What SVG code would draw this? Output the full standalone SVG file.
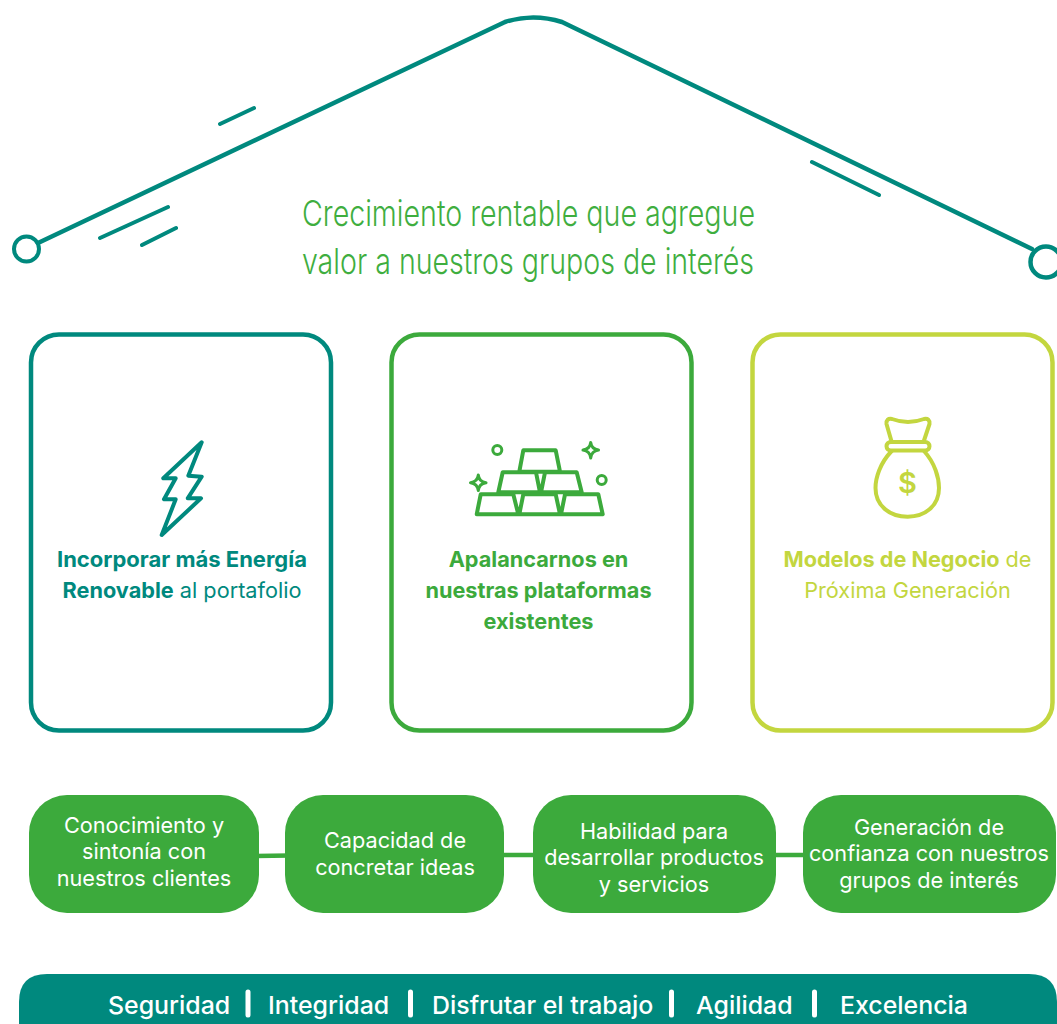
<svg xmlns="http://www.w3.org/2000/svg" width="1057" height="1024" viewBox="0 0 1057 1024">
<style>
text{font-family:"Inter","Liberation Sans",sans-serif}
.teal{fill:none;stroke:#00897e;stroke-width:4;stroke-linecap:round;stroke-linejoin:round}
.green{fill:none;stroke:#3caa3c;stroke-width:4;stroke-linecap:round;stroke-linejoin:round}
.lime{fill:none;stroke:#c3d63f;stroke-width:4;stroke-linecap:round;stroke-linejoin:round}
.card{stroke-width:4.500}
.title{font-size:36px;font-weight:300;fill:#3fae3f}
.ct{font-size:21.700px;text-anchor:middle}
.b{font-weight:700}
.l{font-weight:400}
.pill{fill:#3caa3c}
.pt{font-size:21.700px;fill:#fff;text-anchor:middle;font-weight:400}
.bt{font-size:24.900px;fill:#fff;font-weight:500}
.sep{stroke:#fff;stroke-width:5;stroke-linecap:round}
</style>
<g id="roof">
<path class="teal" style="stroke-width:4.500" d="M38 243L505 22Q533 13 562 22L1032 249"/>
<circle class="teal" cx="26.500" cy="249" r="12.500"/>
<circle class="teal" cx="1046" cy="262" r="15.500" style="stroke-width:4.500"/>
<path class="teal" d="M220 124L254 108M100 238L168 207M142 245L176 228M812 162L879 195"/>
</g>
<g id="title">
<text class="title" x="302" y="226" textLength="453" lengthAdjust="spacingAndGlyphs">Crecimiento rentable que agregue</text>
<text class="title" x="302" y="274" textLength="452" lengthAdjust="spacingAndGlyphs">valor a nuestros grupos de interés</text>
</g>
<g id="connectors">
<path stroke="#3caa3c" stroke-width="4.500" fill="none" d="M255 856L290 855.500M500 855H538M772 855H808"/>
</g>
<g id="card-renovable">
<rect class="teal card" x="31" y="334.500" width="300" height="396" rx="28"/>
<path class="teal" d="M201.700 442.300L163.300 478.300H175.700L164 499.300H175.700L161.700 535L201 498.300H187.700L201.700 476.700L188.300 475.700Z"/>
<text class="ct b" x="182" y="567" fill="#00897e" textLength="250" lengthAdjust="spacingAndGlyphs">Incorporar más Energía</text>
<text class="ct" x="182" y="598" fill="#00897e"><tspan class="b">Renovable</tspan><tspan class="l"> al portafolio</tspan></text>
</g>
<g id="card-plataformas">
<rect class="green card" x="391.500" y="334.500" width="300" height="396" rx="28"/>
<path class="green" d="M523.300 450.300H555.700L560 471.700H519.300ZM502.700 472.300H536L540 492.300H498.300ZM545 472.300H576.700L581.700 492.300H541ZM480.700 494.300H513.300L518.300 514.300H476.700ZM523.300 494.300H555.700L560 514.300H519.300ZM565 494.300H598.300L602.700 514.300H561Z"/>
<circle class="green" cx="497.300" cy="450" r="4.500" style="stroke-width:3"/>
<circle class="green" cx="601.700" cy="480" r="4.500" style="stroke-width:3"/>
<path class="green" style="stroke-width:3" d="M590.700 442.500Q591.500 449 598.500 450Q591.500 451 590.700 458Q590 451 583 450Q590 449 590.700 442.500ZM478.300 475Q479 481.800 486 482.700Q479 483.600 478.300 490.500Q477.500 483.600 470.500 482.700Q477.500 481.800 478.300 475Z"/>
<text class="ct b" x="538.500" y="567" fill="#3caa3c">Apalancarnos en</text>
<text class="ct b" x="538.500" y="598" fill="#3caa3c">nuestras plataformas</text>
<text class="ct b" x="538.500" y="629" fill="#3caa3c">existentes</text>
</g>
<g id="card-modelos">
<rect class="lime card" x="752.500" y="334.500" width="300" height="396" rx="28"/>
<path class="lime" d="M891.700 442L886.500 424Q886 418 892 419Q908 425 924 419Q930 418 929.500 424L923.500 442"/>
<rect class="lime" x="886.500" y="442" width="43" height="8.500" rx="4.200"/>
<path class="lime" d="M891.700 451C880 463 875.500 478 875.500 488C875.500 506 890 516.700 907.700 516.700C925 516.700 939 506 939 488C939 478 935 463 924 451"/>
<text x="907.500" y="493" font-size="29" font-weight="600" text-anchor="middle" fill="#c3d63f">$</text>
<text class="ct" x="907.500" y="567" fill="#c3d63f" textLength="248"><tspan class="b">Modelos de Negocio</tspan><tspan class="l"> de</tspan></text>
<text class="ct l" x="907.500" y="598" fill="#c3d63f">Próxima Generación</text>
</g>
<g id="pill-conocimiento">
<rect class="pill" x="29" y="795" width="230" height="118" rx="38"/>
<text class="pt" x="144" y="833">Conocimiento y</text><text class="pt" x="144" y="859">sintonía con</text><text class="pt" x="144" y="886">nuestros clientes</text>
</g>
<g id="pill-capacidad">
<rect class="pill" x="285" y="795" width="219" height="118" rx="38"/>
<text class="pt" x="395" y="848">Capacidad de</text><text class="pt" x="395" y="875">concretar ideas</text>
</g>
<g id="pill-habilidad">
<rect class="pill" x="533" y="795" width="243" height="118" rx="38"/>
<text class="pt" x="654" y="839">Habilidad para</text><text class="pt" x="654" y="865">desarrollar productos</text><text class="pt" x="654" y="892">y servicios</text>
</g>
<g id="pill-generacion">
<rect class="pill" x="803" y="795" width="253" height="118" rx="38"/>
<text class="pt" x="929" y="835">Generación de</text><text class="pt" x="929" y="861">confianza con nuestros</text><text class="pt" x="929" y="888">grupos de interés</text>
</g>
<g id="values">
<path fill="#00897e" d="M47 974H1029Q1057 974 1057 1002V1024H19V1002Q19 974 47 974Z"/>
<text class="bt" x="108" y="1014">Seguridad</text>
<text class="bt" x="268" y="1014">Integridad</text>
<text class="bt" x="432" y="1014">Disfrutar el trabajo</text>
<text class="bt" x="696" y="1014">Agilidad</text>
<text class="bt" x="840" y="1014">Excelencia</text>
<path class="sep" d="M248 992V1015M410.500 992V1015M671.500 992V1015M814.500 992V1015"/>
</g>
</svg>
